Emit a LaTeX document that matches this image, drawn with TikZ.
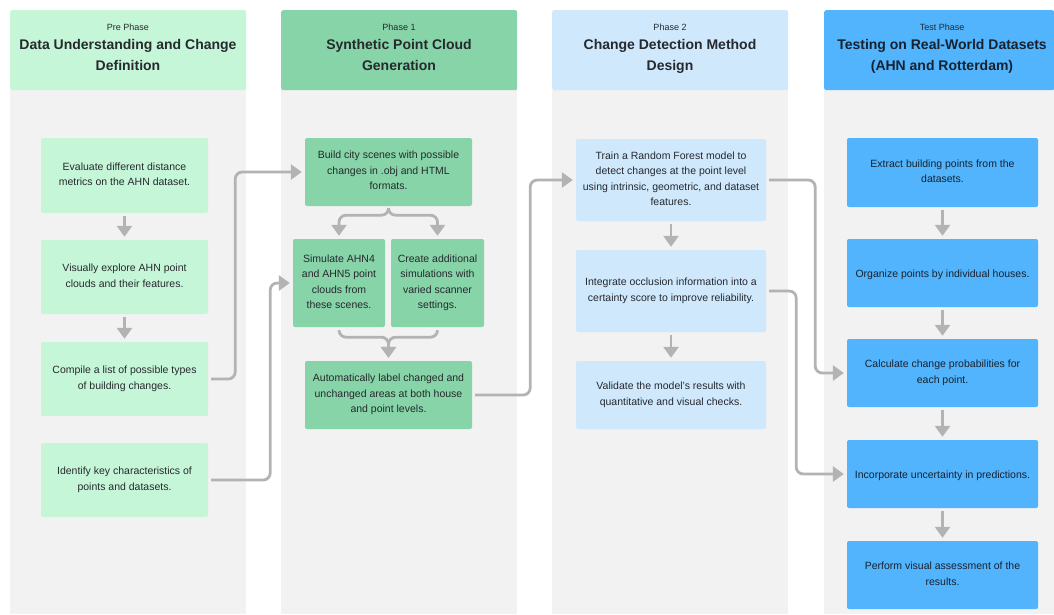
\documentclass[tikz,border=0pt]{standalone}
\usepackage{fontspec}
\setmainfont{Liberation Sans}
\usetikzlibrary{arrows.meta}
\definecolor{cA}{HTML}{C6F6D8}
\definecolor{cB}{HTML}{87D4A8}
\definecolor{cC}{HTML}{CFE8FC}
\definecolor{cD}{HTML}{52B4FC}
\definecolor{colgray}{HTML}{F2F2F2}
\definecolor{arrgray}{HTML}{B3B3B3}
\definecolor{txt}{HTML}{26292E}
\definecolor{txtblue}{HTML}{172230}
\newcommand\boxstrut{\rule[-3pt]{0pt}{15.5pt}}
\newcommand\ttlstrut{\rule[-4.2pt]{0pt}{21pt}}
\tikzset{
  colbg/.style={fill=colgray, draw=none, inner sep=0pt, anchor=north west, minimum width=236pt, minimum height=524pt},
  hdr/.style={draw=none, rounded corners=2pt, inner sep=0pt, anchor=north west, minimum width=236pt, minimum height=80pt},
  phaselbl/.style={font=\fontsize{9}{11}\selectfont, text=txt, inner sep=0pt},
  ttl/.style={font=\fontsize{14}{21}\selectfont\bfseries, text=txt, align=center, inner sep=0pt,
    execute at begin node=\ttlstrut, execute at end node=\ttlstrut},
  box/.style={draw=none, rounded corners=2pt, inner sep=0pt, align=center, font=\fontsize{10.5}{15.5}\selectfont, text=txt,
    execute at begin node=\boxstrut, execute at end node=\boxstrut},
  arr/.style={draw=arrgray, line width=2.8pt, -{Triangle[width=15pt,length=11pt]}, shorten <=3pt, shorten >=3pt},
  conn/.style={arr, rounded corners=7pt},
}
\begin{document}
\begin{tikzpicture}[x=1pt,y=-1pt]
\useasboundingbox (0,0) rectangle (1054,614);
% columns
\node[colbg] (g1) at (10,90) {};
\node[colbg] (g2) at (281,90) {};
\node[colbg] (g3) at (552,90) {};
\node[colbg, minimum width=230pt] (g4) at (824,90) {};
% headers
\node[hdr, fill=cA] (h1) at (10,10) {};
\node[hdr, fill=cB] (h2) at (281,10) {};
\node[hdr, fill=cC] (h3) at (552,10) {};
\node[hdr, fill=cD, minimum width=230pt] (h4) at (824,10) {};
\node[phaselbl] (p1) at (128,27) {Pre Phase};
\node[phaselbl] (p2) at (399,27) {Phase 1};
\node[phaselbl] (p3) at (670,27) {Phase 2};
\node[phaselbl] (p4) at (942,27) {Test Phase};
\node[ttl] (t1) at (128,57.5) {Data Understanding and Change\\Definition};
\node[ttl] (t2) at (399,57.5) {Synthetic Point Cloud\\Generation};
\node[ttl] (t3) at (670,57.5) {Change Detection Method\\Design};
\node[ttl, text=txtblue] (t4) at (942,57.5) {Testing on Real-World Datasets\\(AHN and Rotterdam)};
% column 1
\node[box, fill=cA, minimum width=167pt, minimum height=75pt] (a1) at (124.5,175.5) {Evaluate different distance\\metrics on the AHN dataset.};
\node[box, fill=cA, minimum width=167pt, minimum height=74pt] (a2) at (124.5,277) {Visually explore AHN point\\clouds and their features.};
\node[box, fill=cA, minimum width=167pt, minimum height=74pt] (a3) at (124.5,379) {Compile a list of possible types\\of building changes.};
\node[box, fill=cA, minimum width=167pt, minimum height=74pt] (a4) at (124.5,480) {Identify key characteristics of\\points and datasets.};
% column 2
\node[box, fill=cB, minimum width=167pt, minimum height=68pt] (build) at (388.5,172) {Build city scenes with possible\\changes in .obj and HTML\\formats.};
\node[box, fill=cB, minimum width=92pt, minimum height=88pt] (sim) at (339,283) {Simulate AHN4\\and AHN5 point\\clouds from\\these scenes.};
\node[box, fill=cB, minimum width=93pt, minimum height=88pt] (cre) at (437.5,283) {Create additional\\simulations with\\varied scanner\\settings.};
\node[box, fill=cB, minimum width=167pt, minimum height=68pt] (auto) at (388.5,395) {Automatically label changed and\\unchanged areas at both house\\and point levels.};
% column 3
\node[box, fill=cC, minimum width=190pt, minimum height=82pt] (train) at (671,180) {Train a Random Forest model to\\detect changes at the point level\\using intrinsic, geometric, and dataset\\features.};
\node[box, fill=cC, minimum width=190pt, minimum height=82pt] (integ) at (671,291) {Integrate occlusion information into a\\certainty score to improve reliability.};
\node[box, fill=cC, minimum width=190pt, minimum height=68pt] (valid) at (671,395) {Validate the model’s results with\\quantitative and visual checks.};
% column 4
\node[box, fill=cD, text=txtblue, minimum width=191pt, minimum height=69pt] (ext) at (942.5,172.5) {Extract building points from the\\datasets.};
\node[box, fill=cD, text=txtblue, minimum width=191pt, minimum height=68pt] (org) at (942.5,273) {Organize points by individual houses.};
\node[box, fill=cD, text=txtblue, minimum width=191pt, minimum height=68pt] (calc) at (942.5,373) {Calculate change probabilities for\\each point.};
\node[box, fill=cD, text=txtblue, minimum width=191pt, minimum height=68pt] (inc) at (942.5,474) {Incorporate uncertainty in predictions.};
\node[box, fill=cD, text=txtblue, minimum width=191pt, minimum height=68pt] (perf) at (942.5,575) {Perform visual assessment of the\\results.};
% vertical arrows
\draw[arr] (a1) -- (a2);
\draw[arr] (a2) -- (a3);
\draw[arr] (train) -- (integ);
\draw[arr] (integ) -- (valid);
\draw[arr] (ext) -- (org);
\draw[arr] (org) -- (calc);
\draw[arr] (calc) -- (inc);
\draw[arr] (inc) -- (perf);
% split and merge
\draw[conn] (build.south) -- ++(0,9) -| (sim.north);
\draw[conn] (build.south) -- ++(0,9) -| (cre.north);
\draw[conn] (sim.south) -- ++(0,10) -| (auto.north);
\draw[conn] (cre.south) -- ++(0,10) -| (auto.north);
% cross-column connectors
\draw[conn] (a3.east) -- ++(27,0) |- (build.west);
\draw[conn] (a4.east) -- ++(62,0) |- (sim.west);
\draw[conn] (auto.east) -- ++(58,0) |- (train.west);
\draw[conn] (train.east) -- ++(49,0) |- (calc.west);
\draw[conn] (integ.east) -- ++(30,0) |- (inc.west);
\end{tikzpicture}
\end{document}
